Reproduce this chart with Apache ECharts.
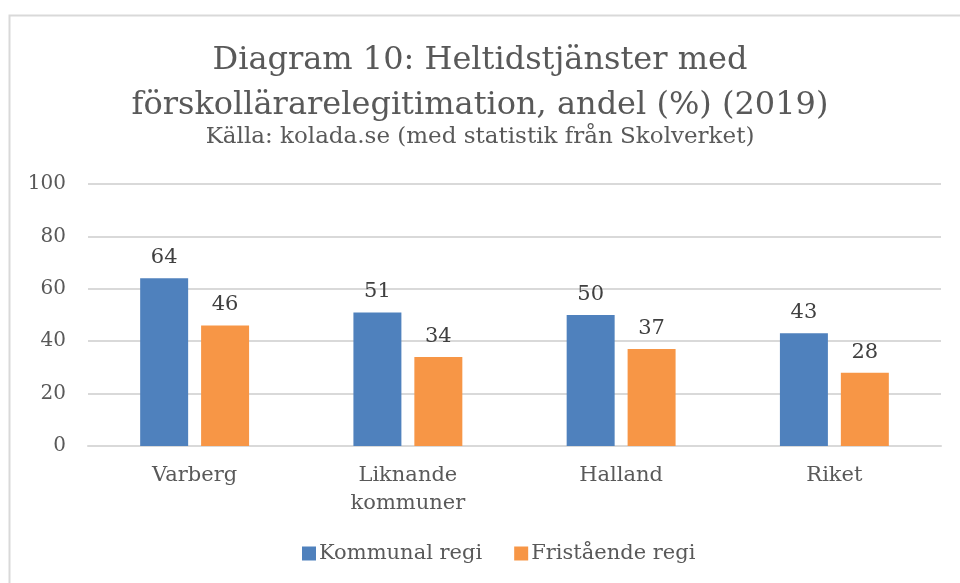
<!DOCTYPE html>
<html>
<head>
<meta charset="utf-8">
<script src="https://cdn.jsdelivr.net/npm/echarts@6/dist/echarts.min.js"></script>
<style>
  html, body { margin: 0; padding: 0; background: #fff; }
  #chart { width: 960px; height: 583px; }
</style>
</head>
<body>
<div id="chart"></div>
<script>
// data
const categories = ['Varberg', 'Liknande\nkommuner', 'Halland', 'Riket']
const kommunal = [64, 51, 50, 43]
const fristaende = [46, 34, 37, 28]
const seriesNames = ['Kommunal regi', 'Fristående regi']

const font = 'DejaVu Serif'
const chart = echarts.init(document.getElementById('chart'))

const option = {
  backgroundColor: '#fff',
  color: ['#4f81bd', '#f79646'],
  textStyle: { fontFamily: font },
  graphic: [{
    type: 'rect',
    shape: { x: 9.5, y: 15.5, width: 1000, height: 700 },
    style: { fill: 'none', stroke: '#d9d9d9', lineWidth: 2 },
    silent: true
  }],
  title: {
    text: 'Diagram 10: Heltidstjänster med\nförskollärarelegitimation, andel (%) (2019)',
    subtext: 'Källa: kolada.se (med statistik från Skolverket)',
    left: 'center',
    top: 33,
    itemGap: -2,
    textStyle: { fontFamily: font, fontSize: 32, fontWeight: 'normal', color: '#595959', lineHeight: 45 },
    subtextStyle: { fontFamily: font, fontSize: 23, color: '#595959' }
  },
  legend: {
    data: seriesNames,
    bottom: 14,
    left: 297,
    icon: 'rect',
    itemWidth: 14,
    itemHeight: 14,
    itemGap: 32,
    textStyle: { fontFamily: font, fontSize: 21, color: '#595959', padding: [0, 0, 0, -2] }
  },
  grid: { left: 88, right: 19, top: 184, bottom: 137 },
  xAxis: {
    type: 'category',
    data: categories,
    axisLine: { lineStyle: { color: '#d9d9d9', width: 2 } },
    axisTick: { show: false },
    axisLabel: { fontFamily: font, fontSize: 21, color: '#595959', margin: 16, lineHeight: 28 }
  },
  yAxis: {
    type: 'value',
    min: 0,
    max: 100,
    interval: 20,
    axisLine: { show: false },
    axisTick: { show: false },
    splitLine: { lineStyle: { color: '#d9d9d9', width: 2 } },
    axisLabel: { fontFamily: font, fontSize: 20, color: '#595959', margin: 22 }
  },
  series: [
    {
      name: seriesNames[0],
      type: 'bar',
      data: kommunal,
      barWidth: '22.5%',
      barGap: '27%',
      label: { show: true, position: 'top', distance: 10, fontFamily: font, fontSize: 21, color: '#404040' }
    },
    {
      name: seriesNames[1],
      type: 'bar',
      data: fristaende,
      barWidth: '22.5%',
      label: { show: true, position: 'top', distance: 10, fontFamily: font, fontSize: 21, color: '#404040' }
    }
  ]
}
chart.setOption(option)
window.onresize = function () { chart.resize() }
</script>
</body>
</html>
